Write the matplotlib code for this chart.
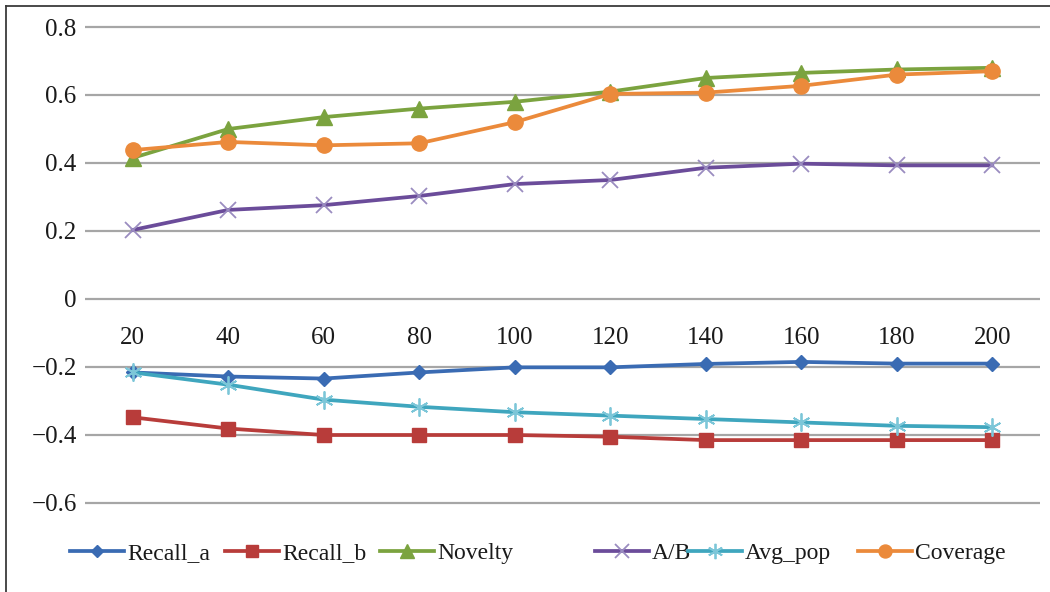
import matplotlib
matplotlib.use("Agg")
import matplotlib.pyplot as plt
from matplotlib.lines import Line2D

plt.rcParams['font.family'] = ['Liberation Serif', 'DejaVu Serif']

categories = ['20', '40', '60', '80', '100', '120', '140', '160', '180', '200']
recall_a = [-0.216, -0.228, -0.234, -0.216, -0.201, -0.201, -0.191, -0.185, -0.190, -0.190]
recall_b = [-0.348, -0.381, -0.400, -0.400, -0.400, -0.405, -0.415, -0.415, -0.415, -0.415]
novelty = [0.415, 0.500, 0.535, 0.560, 0.580, 0.610, 0.650, 0.665, 0.675, 0.680]
ab = [0.203, 0.262, 0.276, 0.303, 0.338, 0.350, 0.386, 0.398, 0.393, 0.393]
avg_pop = [-0.216, -0.252, -0.296, -0.317, -0.333, -0.343, -0.353, -0.363, -0.373, -0.377]
coverage = [0.438, 0.462, 0.452, 0.458, 0.520, 0.603, 0.607, 0.627, 0.660, 0.670]

y_ticks = [-0.6, -0.4, -0.2, 0.0, 0.2, 0.4, 0.6, 0.8]
y_tick_labels = ['\u22120.6', '\u22120.4', '\u22120.2', '0', '0.2', '0.4', '0.6', '0.8']

series = [
    ('Recall_a', recall_a, '#3A6BB3', dict(marker='D', markersize=7.5, mfc='#3A6BB3', mec='#3A6BB3')),
    ('Recall_b', recall_b, '#B83C3A', dict(marker='s', markersize=10.5, mfc='#B83C3A', mec='#B83C3A')),
    ('Novelty', novelty, '#7BA33F', dict(marker='^', markersize=12, mfc='#7BA33F', mec='#7BA33F')),
    ('A/B', ab, '#6B4C9A', dict(marker='x', markersize=12, mew=1.3, mec='#9A8CC0')),
    ('Avg_pop', avg_pop, '#3FA6BE', dict(marker=(6, 2, 0), markersize=13, mew=1.3, mec='#7CC6D8')),
    ('Coverage', coverage, '#EB8A3B', dict(marker='o', markersize=11, mfc='#EB8A3B', mec='#EB8A3B')),
]

fig = plt.figure(figsize=(10.5, 5.92), dpi=100)
ax = fig.add_axes([85/1050, 1 - 506.4/592, (1040-85)/1050, (506.4-23.6)/592])

x = list(range(len(categories)))
handles = []
for name, vals, color, mk in series:
    h, = ax.plot(x, vals, color=color, lw=2.7, label=name, zorder=3, **mk)
    handles.append(h)

ax.set_xlim(-0.5, len(categories) - 0.5)
ax.set_ylim(-0.61, 0.81)
ax.set_yticks(y_ticks)
ax.set_yticklabels(y_tick_labels)
ax.set_xticks(x)
ax.set_xticklabels(categories)

for s in ['top', 'right', 'left']:
    ax.spines[s].set_visible(False)
ax.spines['bottom'].set_position(('data', 0))
ax.spines['bottom'].set_color('none')

ax.yaxis.grid(True, color='#A6A6A6', lw=1.6)
ax.set_axisbelow(True)
ax.tick_params(axis='y', length=0, pad=6, labelsize=18, colors='#1a1a1a')
ax.tick_params(axis='x', length=0, pad=20, labelsize=18, colors='#1a1a1a')

# legend entries placed individually
leg_x = [70, 225, 380, 595, 688, 858]
for h, lx in zip(handles, leg_x):
    lg = fig.legend(handles=[h], loc='center left', bbox_to_anchor=(lx/1050, 1 - 553/592),
                    frameon=False, fontsize=17, handlelength=2.3, handletextpad=0.12,
                    borderpad=0, borderaxespad=0, markerscale=0.85)
    for t in lg.get_texts():
        t.set_color('#1a1a1a')

# outer frame lines (left and top)
fig.add_artist(Line2D([6/1050, 6/1050], [0, 1 - 6/592], transform=fig.transFigure,
                      color='#3a3a3a', lw=1.3))
fig.add_artist(Line2D([6/1050, 1], [1 - 6/592, 1 - 6/592], transform=fig.transFigure,
                      color='#3a3a3a', lw=1.3))

fig.savefig('out.png', dpi=100)
